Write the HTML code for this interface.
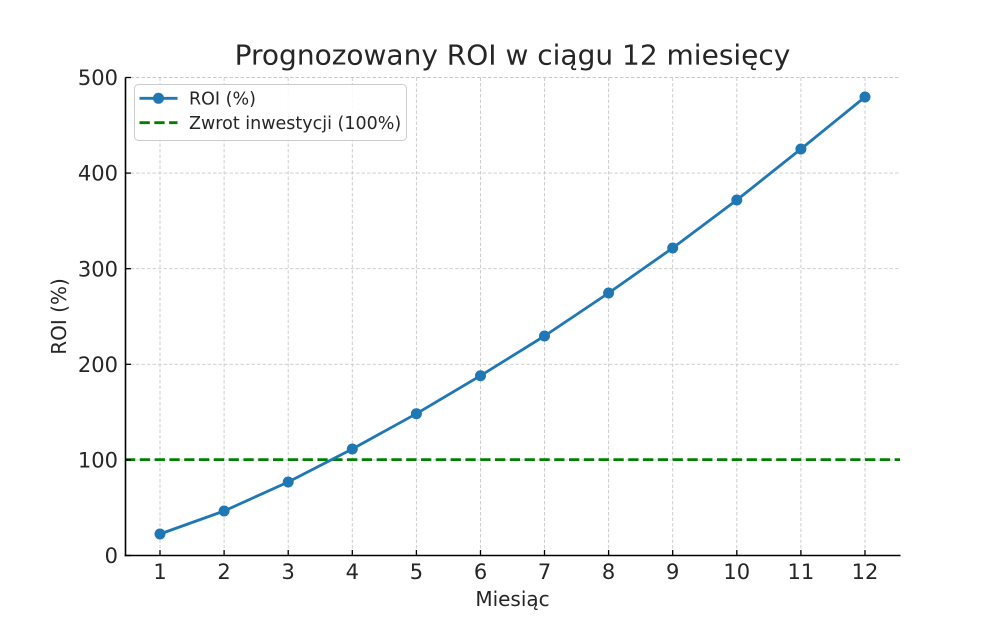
<!DOCTYPE html>
<html>
<head>
<meta charset="utf-8">
<style>
  html,body{margin:0;padding:0;background:#fff;}
  svg{display:block;}
  text{font-family:"DejaVu Sans","Liberation Sans",sans-serif;fill:#262626;}
</style>
</head>
<body>
<svg width="1000" height="625" viewBox="0 0 1000 625" xmlns="http://www.w3.org/2000/svg">
  <rect x="0" y="0" width="1000" height="625" fill="#fff"/>

  <!-- grid -->
  <g stroke="#c8c8c8" stroke-width="0.9" stroke-dasharray="3.5,2" fill="none">
    <line x1="125" y1="459.9" x2="900" y2="459.9"/>
    <line x1="125" y1="364.3" x2="900" y2="364.3"/>
    <line x1="125" y1="268.7" x2="900" y2="268.7"/>
    <line x1="125" y1="173.1" x2="900" y2="173.1"/>
    <line x1="125" y1="77.5" x2="900" y2="77.5"/>
    <line x1="160" y1="77.5" x2="160" y2="555.5"/>
    <line x1="224.1" y1="77.5" x2="224.1" y2="555.5"/>
    <line x1="288.2" y1="77.5" x2="288.2" y2="555.5"/>
    <line x1="352.3" y1="77.5" x2="352.3" y2="555.5"/>
    <line x1="416.4" y1="77.5" x2="416.4" y2="555.5"/>
    <line x1="480.5" y1="77.5" x2="480.5" y2="555.5"/>
    <line x1="544.5" y1="77.5" x2="544.5" y2="555.5"/>
    <line x1="608.6" y1="77.5" x2="608.6" y2="555.5"/>
    <line x1="672.7" y1="77.5" x2="672.7" y2="555.5"/>
    <line x1="736.8" y1="77.5" x2="736.8" y2="555.5"/>
    <line x1="800.9" y1="77.5" x2="800.9" y2="555.5"/>
    <line x1="865" y1="77.5" x2="865" y2="555.5"/>
  </g>

  <!-- 100% line -->
  <line x1="125" y1="459.6" x2="900" y2="459.6" stroke="#008000" stroke-width="2.8" stroke-dasharray="10.3,4.5"/>

  <!-- ROI series -->
  <polyline fill="none" stroke="#1f77b4" stroke-width="2.8" stroke-linejoin="round"
    points="160,534 224.1,511 288.2,482 352.3,449 416.4,413.7 480.5,375.7 544.5,336 608.6,293 672.7,248 736.8,200 800.9,149 865,97"/>
  <g fill="#1f77b4">
    <circle cx="160" cy="534" r="5.5"/>
    <circle cx="224.1" cy="511" r="5.5"/>
    <circle cx="288.2" cy="482" r="5.5"/>
    <circle cx="352.3" cy="449" r="5.5"/>
    <circle cx="416.4" cy="413.7" r="5.5"/>
    <circle cx="480.5" cy="375.7" r="5.5"/>
    <circle cx="544.5" cy="336" r="5.5"/>
    <circle cx="608.6" cy="293" r="5.5"/>
    <circle cx="672.7" cy="248" r="5.5"/>
    <circle cx="736.8" cy="200" r="5.5"/>
    <circle cx="800.9" cy="149" r="5.5"/>
    <circle cx="865" cy="97" r="5.5"/>
  </g>

  <!-- spines -->
  <line x1="125.5" y1="77.5" x2="125.5" y2="556.3" stroke="#000" stroke-width="1.6"/>
  <line x1="124.7" y1="555.5" x2="900.5" y2="555.5" stroke="#000" stroke-width="1.6"/>

  <!-- ticks (inward) -->
  <g stroke="#000" stroke-width="1.3">
    <line x1="125.5" y1="555.5" x2="131" y2="555.5"/>
    <line x1="125.5" y1="459.9" x2="131" y2="459.9"/>
    <line x1="125.5" y1="364.3" x2="131" y2="364.3"/>
    <line x1="125.5" y1="268.7" x2="131" y2="268.7"/>
    <line x1="125.5" y1="173.1" x2="131" y2="173.1"/>
    <line x1="125.5" y1="77.5" x2="131" y2="77.5"/>
    <line x1="160" y1="555.5" x2="160" y2="550"/>
    <line x1="224.1" y1="555.5" x2="224.1" y2="550"/>
    <line x1="288.2" y1="555.5" x2="288.2" y2="550"/>
    <line x1="352.3" y1="555.5" x2="352.3" y2="550"/>
    <line x1="416.4" y1="555.5" x2="416.4" y2="550"/>
    <line x1="480.5" y1="555.5" x2="480.5" y2="550"/>
    <line x1="544.5" y1="555.5" x2="544.5" y2="550"/>
    <line x1="608.6" y1="555.5" x2="608.6" y2="550"/>
    <line x1="672.7" y1="555.5" x2="672.7" y2="550"/>
    <line x1="736.8" y1="555.5" x2="736.8" y2="550"/>
    <line x1="800.9" y1="555.5" x2="800.9" y2="550"/>
    <line x1="865" y1="555.5" x2="865" y2="550"/>
  </g>

  <!-- y tick labels -->
  <g font-size="21" text-anchor="end">
    <text x="118" y="563.1">0</text>
    <text x="118" y="467.5">100</text>
    <text x="118" y="371.9">200</text>
    <text x="118" y="276.3">300</text>
    <text x="118" y="180.7">400</text>
    <text x="118" y="85.1">500</text>
  </g>

  <!-- x tick labels -->
  <g font-size="21" text-anchor="middle">
    <text x="160" y="579">1</text>
    <text x="224.1" y="579">2</text>
    <text x="288.2" y="579">3</text>
    <text x="352.3" y="579">4</text>
    <text x="416.4" y="579">5</text>
    <text x="480.5" y="579">6</text>
    <text x="544.5" y="579">7</text>
    <text x="608.6" y="579">8</text>
    <text x="672.7" y="579">9</text>
    <text x="736.8" y="579">10</text>
    <text x="800.9" y="579">11</text>
    <text x="865" y="579">12</text>
  </g>

  <!-- axis labels -->
  <text x="512.5" y="606" font-size="20" text-anchor="middle">Miesiąc</text>
  <text transform="translate(66,316.5) rotate(-90)" font-size="20" text-anchor="middle">ROI (%)</text>

  <!-- title -->
  <text x="512.5" y="64.3" font-size="28" text-anchor="middle">Prognozowany ROI w ciągu 12 miesięcy</text>

  <!-- legend -->
  <rect x="134.5" y="84.5" width="272" height="56" rx="4" ry="4" fill="#fff" fill-opacity="0.85" stroke="#cccccc" stroke-width="1"/>
  <line x1="139.5" y1="98.3" x2="177.5" y2="98.3" stroke="#1f77b4" stroke-width="2.8"/>
  <circle cx="158.5" cy="98.3" r="5.5" fill="#1f77b4"/>
  <text x="189" y="104.6" font-size="17.5">ROI (%)</text>
  <line x1="139.5" y1="122.7" x2="177.5" y2="122.7" stroke="#008000" stroke-width="2.8" stroke-dasharray="10.3,4.5"/>
  <text x="189" y="129.2" font-size="17.5">Zwrot inwestycji (100%)</text>
</svg>
</body>
</html>
